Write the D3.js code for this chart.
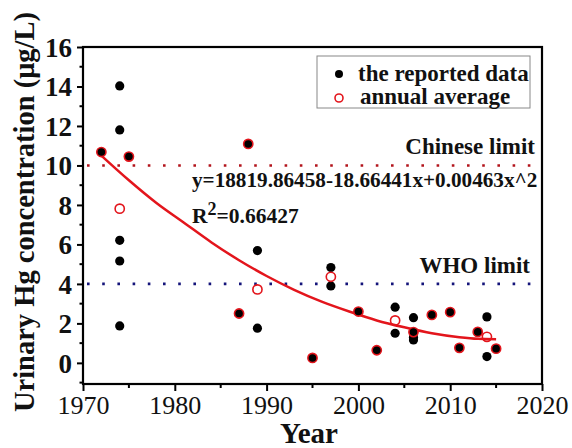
<!DOCTYPE html>
<html>
<head>
<meta charset="utf-8">
<script src="https://cdnjs.cloudflare.com/ajax/libs/d3/7.8.5/d3.min.js"></script>
<style>
  body { margin: 0; background: #fff; }
  text { font-family: "Liberation Serif", "Times New Roman", serif; }
</style>
</head>
<body>
<svg id="chart" width="572" height="448"></svg>
<script>
// reported data (one entry per reported value)
var reportedYears = [1972, 1974, 1974, 1974, 1974, 1974, 1975, 1987, 1988, 1989, 1989, 1995,
    1997, 1997, 2000, 2002, 2004, 2004, 2006, 2006, 2006, 2006, 2008, 2010, 2011, 2013, 2014, 2014, 2015];
var reportedValues = [10.68, 14.03, 11.8, 6.21, 5.16, 1.87, 10.45, 2.5, 11.09, 5.69, 1.76, 0.25,
    4.83, 3.9, 2.6, 0.64, 2.82, 1.5, 2.29, 1.54, 1.3, 1.16, 2.43, 2.57, 0.76, 1.57, 2.33, 0.32, 0.72];

// annual averages
var avgYears = [1972, 1974, 1975, 1987, 1988, 1989, 1995, 1997, 2000, 2002, 2004, 2006, 2008, 2010, 2011, 2013, 2014, 2015];
var avgValues = [10.68, 7.81, 10.45, 2.5, 11.09, 3.72, 0.25, 4.36, 2.6, 0.64, 2.15, 1.56, 2.43, 2.57, 0.76, 1.57, 1.32, 0.72];

// fitted polynomial
var fitYears = [1972, 1975, 1978, 1981, 1984, 1987, 1990, 1993, 1996, 1999, 2002, 2005, 2008, 2011, 2013, 2015];
var fitValues = [10.5, 9.25, 8.1, 7.1, 6.1, 5.2, 4.4, 3.7, 3.1, 2.6, 2.15, 1.8, 1.5, 1.3, 1.22, 1.2];

var xTicks = [1970, 1980, 1990, 2000, 2010, 2020];
var yTicks = [0, 2, 4, 6, 8, 10, 12, 14, 16];
var limitValues = [10, 4];
var limitNames = ["Chinese limit", "WHO limit"];
var limitColors = ["#b3141c", "#14147a"];

var svg = d3.select("#chart");
var padL = 83, padR = 542, padT = 47, padB = 384;
var red = "#e3151c";

var x = d3.scaleLinear().domain([1970, 2020]).range([padL, padR]);
var y = d3.scaleLinear().domain([-1.07, 16]).range([padB, padT]);

// limit lines
limitValues.forEach(function(v, i) {
    svg.append("line")
        .attr("x1", padL + 4).attr("x2", padR - 2)
        .attr("y1", y(v)).attr("y2", y(v))
        .attr("stroke", limitColors[i])
        .attr("stroke-width", 2.6)
        .attr("stroke-dasharray", "2.6,12.6");
    svg.append("text")
        .attr("x", i == 0 ? 535 : 530)
        .attr("y", y(v) - 11)
        .attr("text-anchor", "end")
        .attr("font-weight", "bold")
        .attr("font-size", 23)
        .attr("fill", "#111")
        .text(limitNames[i]);
});

// fit curve
var line = d3.line()
    .x(function(d) { return x(d[0]); })
    .y(function(d) { return y(d[1]); })
    .curve(d3.curveMonotoneX);
svg.append("path")
    .datum(d3.zip(fitYears, fitValues))
    .attr("d", line)
    .attr("fill", "none")
    .attr("stroke", red)
    .attr("stroke-width", 2.5);

// points
svg.append("g").selectAll("circle")
    .data(d3.zip(reportedYears, reportedValues))
    .enter().append("circle")
    .attr("cx", function(d) { return x(d[0]); })
    .attr("cy", function(d) { return y(d[1]); })
    .attr("r", 4.6)
    .attr("fill", "#000");

svg.append("g").selectAll("circle")
    .data(d3.zip(avgYears, avgValues))
    .enter().append("circle")
    .attr("cx", function(d) { return x(d[0]); })
    .attr("cy", function(d) { return y(d[1]); })
    .attr("r", 4.6)
    .attr("fill", "none")
    .attr("stroke", red)
    .attr("stroke-width", 1.6);

// axes
var xAxis = d3.axisBottom(x).tickValues(xTicks).tickSize(7).tickFormat(d3.format("d"));
var gx = svg.append("g").attr("transform", "translate(0," + padB + ")").call(xAxis);
gx.selectAll("text").attr("font-size", 26).attr("dy", 0).attr("y", 30).attr("fill", "#111");
gx.append("g").selectAll("line")
    .data(d3.range(1975, 2020, 10))
    .enter().append("line")
    .attr("x1", x).attr("x2", x).attr("y1", 0).attr("y2", 4).attr("stroke", "#000").attr("stroke-width", 2);

var yAxis = d3.axisLeft(y).tickValues(yTicks).tickSize(6);
var gy = svg.append("g").attr("transform", "translate(" + padL + ",0)").call(yAxis);
gy.selectAll("text").attr("font-size", 27).attr("font-weight", "bold").attr("x", -11).attr("dy", "0.34em").attr("fill", "#111");
gy.append("g").selectAll("line")
    .data(d3.range(-1, 16, 2))
    .enter().append("line")
    .attr("y1", y).attr("y2", y).attr("x1", 0).attr("x2", -3.5).attr("stroke", "#000").attr("stroke-width", 2);

svg.selectAll(".domain").remove();
svg.selectAll(".tick line").attr("stroke-width", 2);

// frame
svg.append("rect")
    .attr("x", padL).attr("y", padT)
    .attr("width", padR - padL).attr("height", padB - padT)
    .attr("fill", "none").attr("stroke", "#000").attr("stroke-width", 2.2);

// equation
svg.append("text")
    .attr("x", 192).attr("y", 187)
    .attr("font-weight", "bold").attr("font-size", 21.2).attr("fill", "#111")
    .text("y=18819.86458-18.66441x+0.00463x^2");
var r2 = svg.append("text")
    .attr("x", 192).attr("y", 223)
    .attr("font-weight", "bold").attr("font-size", 21.5).attr("fill", "#111");
r2.append("tspan").text("R");
r2.append("tspan").attr("dy", -8).attr("font-size", 18).text("2");
r2.append("tspan").attr("dy", 8).text("=0.66427");

// legend
svg.append("rect")
    .attr("x", 317).attr("y", 56).attr("width", 213).attr("height", 52)
    .attr("fill", "#fff").attr("stroke", "#888").attr("stroke-width", 1);
svg.append("circle").attr("cx", 339).attr("cy", 74).attr("r", 4).attr("fill", "#000");
svg.append("circle").attr("cx", 339).attr("cy", 98).attr("r", 4)
    .attr("fill", "none").attr("stroke", red).attr("stroke-width", 1.6);
svg.append("text").attr("x", 358).attr("y", 81)
    .attr("font-weight", "bold").attr("font-size", 23).attr("fill", "#111")
    .text("the reported data");
svg.append("text").attr("x", 360).attr("y", 104)
    .attr("font-weight", "bold").attr("font-size", 23).attr("fill", "#111")
    .text("annual average");

// axis titles
svg.append("text")
    .attr("x", 309).attr("y", 443)
    .attr("text-anchor", "middle")
    .attr("font-weight", "bold").attr("font-size", 29).attr("fill", "#111")
    .text("Year");
svg.append("text")
    .attr("transform", "translate(34,212) rotate(-90)")
    .attr("text-anchor", "middle")
    .attr("font-weight", "bold").attr("font-size", 28.5).attr("fill", "#111")
    .text("Urinary Hg concentration (μg/L)");
</script>
</body>
</html>
